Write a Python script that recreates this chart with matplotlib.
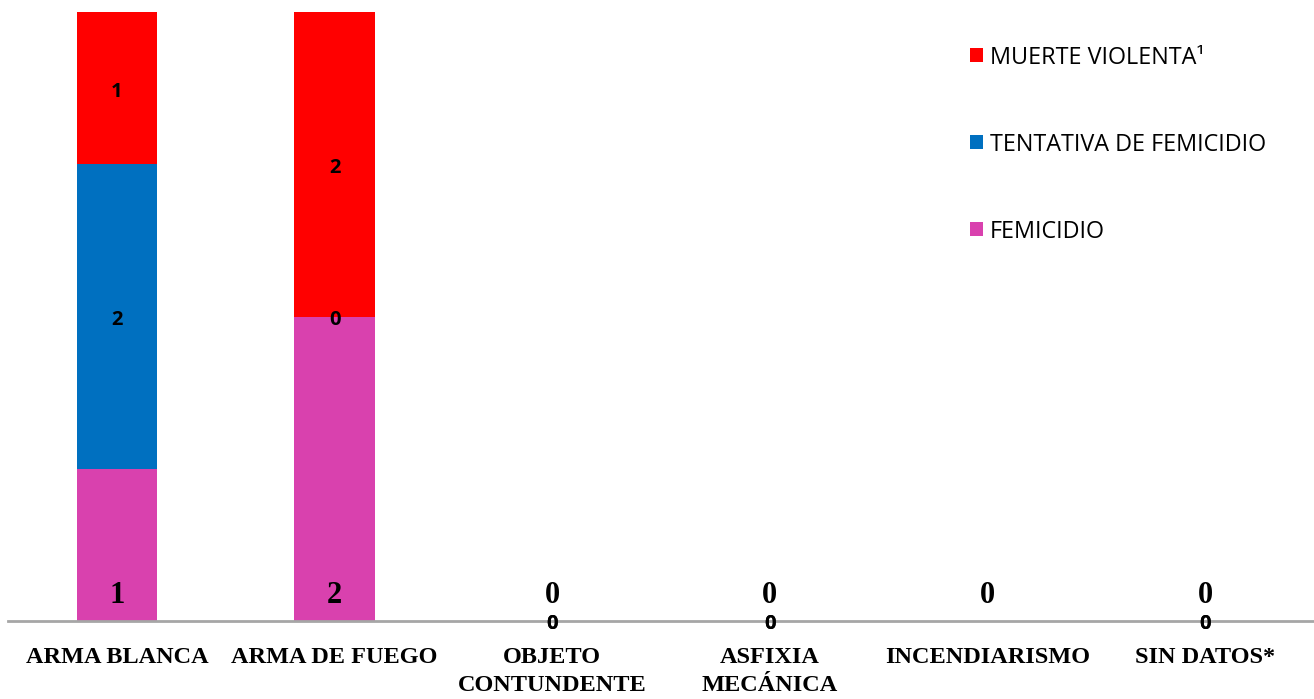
import numpy as np
import matplotlib
matplotlib.use("Agg")
import matplotlib.pyplot as plt

categories = ["ARMA BLANCA", "ARMA DE FUEGO", "OBJETO\nCONTUNDENTE",
              "ASFIXIA\nMECÁNICA", "INCENDIARISMO", "SIN DATOS*"]
femicidio = [1, 2, 0, 0, 0, 0]
tentativa = [2, 0, 0, 0, np.nan, 0]
muerte_violenta = [1, 2, 0, 0, np.nan, 0]

series_names = ["FEMICIDIO", "TENTATIVA DE FEMICIDIO", "MUERTE VIOLENTA¹"]
colors = ["#D941AE", "#0070C0", "#FF0000"]

fig = plt.figure(figsize=(13.14, 6.99), dpi=100)
ax = fig.add_axes([8/1314, 78/699, 1 - 8/1314, 609/699])

x = np.arange(len(categories))
w = 0.37
f = np.array(femicidio, float)
t = np.array(tentativa, float)
m = np.array(muerte_violenta, float)
t0 = np.nan_to_num(t)
m0 = np.nan_to_num(m)

b1 = ax.bar(x, f, w, color=colors[0], label=series_names[0])
b2 = ax.bar(x, t0, w, bottom=f, color=colors[1], label=series_names[1])
b3 = ax.bar(x, m0, w, bottom=f + t0, color=colors[2], label=series_names[2])

serif = dict(family="Liberation Serif", fontweight="bold", fontsize=22)
sans = dict(family="Open Sans", fontweight="bold", fontsize=14.5)

for i in range(len(categories)):
    ax.annotate(f"{int(f[i])}", (x[i], 0), xytext=(0, 8), textcoords="offset points",
                ha="center", va="bottom", **serif)
    if not np.isnan(t[i]):
        yc = f[i] + t[i] / 2
        ax.annotate(f"{int(t[i])}", (x[i], yc), xytext=(0, -2.5), textcoords="offset points",
                    ha="center", va="center", **sans)
    if not np.isnan(m[i]):
        yc = f[i] + t0[i] + m[i] / 2
        ax.annotate(f"{int(m[i])}", (x[i], yc), xytext=(0, -2.5), textcoords="offset points",
                    ha="center", va="center", **sans)

ax.set_xlim(-0.5, len(categories) - 0.5)
ax.set_ylim(0, 4)
ax.set_yticks([])
ax.set_xticks(x)
ax.set_xticklabels(categories, fontfamily="Liberation Serif", fontweight="bold",
                   fontsize=17.5, linespacing=1.4)
ax.tick_params(axis="x", length=0, pad=19)
for s in ["top", "right", "left"]:
    ax.spines[s].set_visible(False)
ax.spines["bottom"].set_color("#A6A6A6")
ax.spines["bottom"].set_linewidth(2)

handles = [b3, b2, b1]
labels = [series_names[2], series_names[1], series_names[0]]
leg = ax.legend(handles, labels, loc="upper left", bbox_to_anchor=(953/1306, 0.96),
                frameon=False, prop=dict(family="Open Sans", size=16.8),
                labelspacing=2.7, handlelength=0.55, handleheight=0.55,
                handletextpad=0.3, borderaxespad=0)

fig.savefig("out.png", dpi=100)
